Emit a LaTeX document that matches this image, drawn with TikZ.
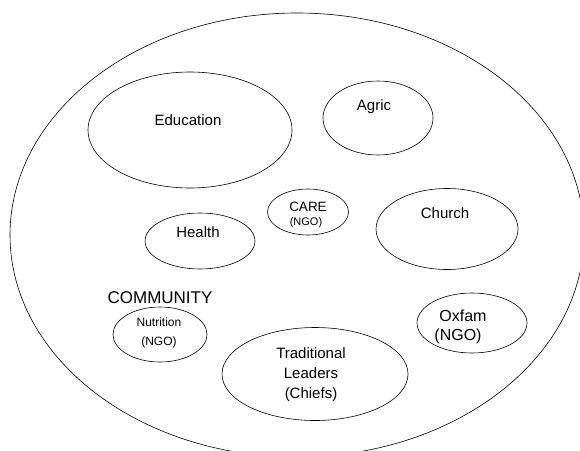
\documentclass[tikz,border=0pt]{standalone}
\usepackage{fontspec}
\setmainfont{Liberation Sans}
\usetikzlibrary{shapes.geometric}
\begin{document}
\begin{tikzpicture}[x=1pt,y=-1pt,
  group/.style={draw=black,line width=0.6pt,ellipse,inner sep=0pt},
  lbl/.style={inner sep=0pt,align=center,font=\fontsize{15}{19}\selectfont},
  small/.style={inner sep=0pt,align=center,font=\fontsize{12}{19}\selectfont}]
  \useasboundingbox (0,0) rectangle (580,450);
  \begin{scope}
    \clip (0,0) rectangle (580,450);
    % the community as a whole
    \node[group,minimum width=574pt,minimum height=444pt] (community) at (297,235) {};
  \end{scope}
  % institutions within the community
  \node[group,minimum width=204pt,minimum height=116pt] (edu) at (190,130) {};
  \node[lbl] (edut) at (188,120) {Education};
  \node[group,minimum width=110pt,minimum height=74pt] (agric) at (378,118) {};
  \node[lbl] (agrict) at (374,107) {Agric};
  \node[group,minimum width=110pt,minimum height=56pt] (health) at (200,241) {};
  \node[lbl] (healtht) at (198,232) {Health};
  \node[group,minimum width=81pt,minimum height=46pt] (care) at (308,212) {};
  \node[inner sep=0pt,font=\fontsize{13.5}{16}\selectfont] (caret) at (308,207) {CARE};
  \node[inner sep=0pt,font=\fontsize{11}{13}\selectfont] (careng) at (306,223) {(NGO)};
  \node[group,minimum width=142pt,minimum height=81pt] (church) at (447,229) {};
  \node[lbl] (churcht) at (445,213) {Church};
  \node[inner sep=0pt,font=\fontsize{17}{20}\selectfont] (comm) at (160,298) {COMMUNITY};
  \node[group,minimum width=94pt,minimum height=55pt] (nutr) at (160,334.5) {};
  \node[small] (nutrt) at (159,332.5) {Nutrition\\(NGO)};
  \node[group,minimum width=186pt,minimum height=93pt] (trad) at (315,374) {};
  \node[inner sep=0pt,align=center,font=\fontsize{15}{20}\selectfont] (tradt) at (311,375) {Traditional\\Leaders\\(Chiefs)};
  \node[group,minimum width=110pt,minimum height=60pt] (oxfam) at (472,323) {};
  \node[inner sep=0pt,font=\fontsize{16}{19}\selectfont] (oxfamt) at (463,316) {Oxfam};
  \node[inner sep=0pt,font=\fontsize{16}{19}\selectfont] (oxfamng) at (458,336) {(NGO)};
\end{tikzpicture}
\end{document}
